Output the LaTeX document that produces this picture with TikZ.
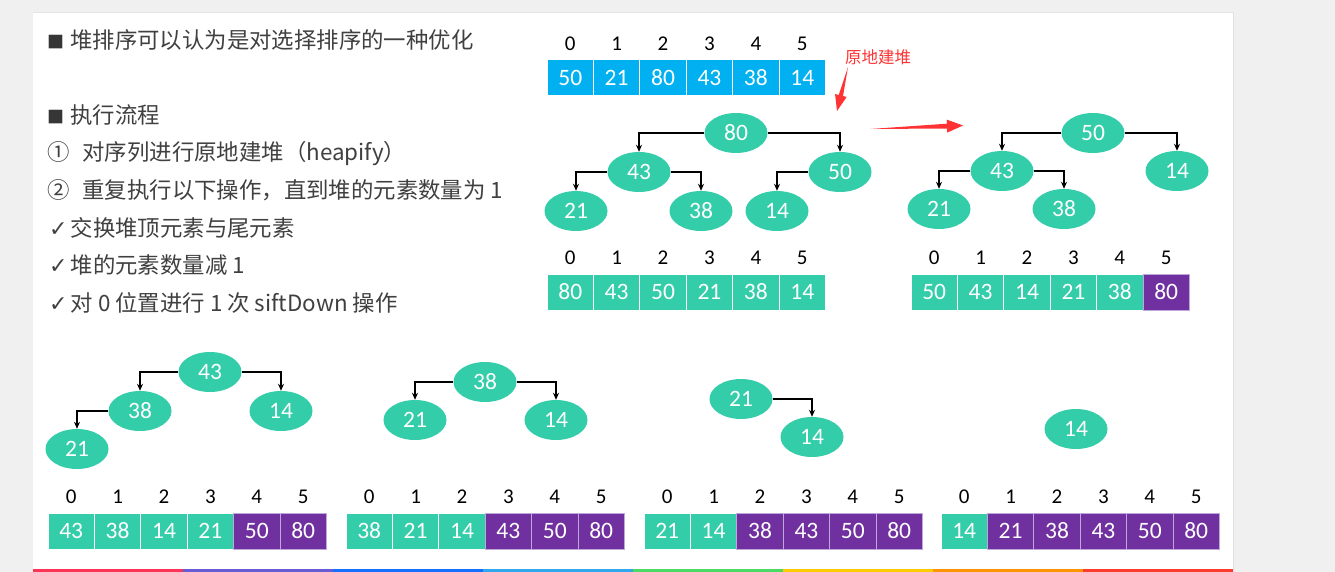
\documentclass[tikz,border=0pt]{standalone}
\usepackage{fontspec}
\setmainfont{Carlito}
\newfontfamily\cjk{Noto Sans CJK SC}
\newfontfamily\dejavu{DejaVu Sans}
\usetikzlibrary{arrows.meta, calc, positioning, shapes.geometric}
\definecolor{heapteal}{RGB}{52,205,170}
\definecolor{heapblue}{RGB}{0,176,240}
\definecolor{heappurple}{RGB}{112,48,160}
\definecolor{lavender}{RGB}{190,168,218}
\definecolor{textgray}{RGB}{64,64,64}
\definecolor{notered}{RGB}{255,51,51}
\definecolor{pagegray}{RGB}{240,240,240}
\definecolor{stripa}{RGB}{255,51,85}
\definecolor{stripb}{RGB}{104,92,214}
\definecolor{stripc}{RGB}{22,112,255}
\definecolor{stripd}{RGB}{48,168,238}
\definecolor{stripe}{RGB}{76,217,100}
\definecolor{stripf}{RGB}{255,204,0}
\definecolor{stripg}{RGB}{255,149,0}
\definecolor{striph}{RGB}{255,59,48}

\begin{document}
\begin{tikzpicture}[x=1pt, y=-1pt,
    heap/.style={ellipse, fill=heapteal, text=white, minimum width=63pt, minimum height=40pt, inner sep=0pt, font=\fontsize{23.5}{23.5}\selectfont},
    cell/.style={rectangle, draw=white, line width=0.8pt, text=white, minimum width=46.4pt, minimum height=36pt, inner sep=0pt, outer sep=0pt, font=\fontsize{23.5}{23.5}\selectfont},
    bcell/.style={cell, fill=heapblue},
    tcell/.style={cell, fill=heapteal},
    pcell/.style={cell, fill=heappurple, draw=lavender},
    idx/.style={text=black, inner sep=0pt, label distance=9pt, font=\fontsize{21}{21}\selectfont},
    txt/.style={anchor=base west, inner sep=0pt, text=textgray, font=\cjk\fontsize{22.4}{22.4}\selectfont},
    link/.style={->, >={Stealth[length=7pt,width=6pt]}, line width=1.3pt, black}]

		\useasboundingbox (0,0) rectangle (1335,572);
		\fill[pagegray] (0,0) rectangle (1335,572);
		\fill[white] (33,12) rectangle (1233,572);
		\draw[black!10] (33,12) -- (1233,12);
		\draw[black!12] (1233,12) -- (1233,572);

		% colour strip at the bottom of the slide
		\fill[stripa] (33,569) rectangle (183,572);
		\fill[stripb] (183,569) rectangle (333,572);
		\fill[stripc] (333,569) rectangle (483,572);
		\fill[stripd] (483,569) rectangle (633,572);
		\fill[stripe] (633,569) rectangle (783,572);
		\fill[stripf] (783,569) rectangle (933,572);
		\fill[stripg] (933,569) rectangle (1083,572);
		\fill[striph] (1083,569) rectangle (1233,572);

		% text
		\node[txt] (intro) at (47,49) {{\fontsize{17}{17}\selectfont\color{textgray!85!black}■}\hspace{6pt}堆排序可以认为是对选择排序的一种优化};
		\node[txt] (flow) at (47,123.5) {{\fontsize{17}{17}\selectfont\color{textgray!85!black}■}\hspace{6pt}执行流程};
		\node[txt] (stepone) at (47,161) {①\hspace{13pt}对序列进行原地建堆（heapify）};
		\node[txt] (steptwo) at (47,198.5) {②\hspace{13pt}重复执行以下操作，直到堆的元素数量为 1};
		\node[txt] (swap) at (49,236) {{\dejavu\fontsize{22}{22}\selectfont ✓}\hspace{3pt}交换堆顶元素与尾元素};
		\node[txt] (shrink) at (49,273.5) {{\dejavu\fontsize{22}{22}\selectfont ✓}\hspace{3pt}堆的元素数量减 1};
		\node[txt] (sift) at (49,311) {{\dejavu\fontsize{22}{22}\selectfont ✓}\hspace{3pt}对 0 位置进行 1 次 siftDown 操作};

		% original array
		\node[bcell, label={[idx]above:0}] (a0) at (570.25,77.5) {50};
		\node[bcell, label={[idx]above:1}, right=0pt of a0] (a1) {21};
		\node[bcell, label={[idx]above:2}, right=0pt of a1] (a2) {80};
		\node[bcell, label={[idx]above:3}, right=0pt of a2] (a3) {43};
		\node[bcell, label={[idx]above:4}, right=0pt of a3] (a4) {38};
		\node[bcell, label={[idx]above:5}, right=0pt of a4] (a5) {14};

		% after heapify
		\node[heap] (p80) at (736,133) {80};
		\node[heap] (p43) at (639,172) {43};
		\node[heap] (p50) at (840,172) {50};
		\node[heap] (p21) at (576,211) {21};
		\node[heap] (p38) at (701,211) {38};
		\node[heap] (p14) at (777,211) {14};
		\draw[link] (p80.west) -| (p43.north);
		\draw[link] (p80.east) -| (p50.north);
		\draw[link] (p43.west) -| (p21.north);
		\draw[link] (p43.east) -| (p38.north);
		\draw[link] (p50.west) -| (p14.north);

		\node[tcell, label={[idx]above:0}] (b0) at (570.25,292) {80};
		\node[tcell, label={[idx]above:1}, right=0pt of b0] (b1) {43};
		\node[tcell, label={[idx]above:2}, right=0pt of b1] (b2) {50};
		\node[tcell, label={[idx]above:3}, right=0pt of b2] (b3) {21};
		\node[tcell, label={[idx]above:4}, right=0pt of b3] (b4) {38};
		\node[tcell, label={[idx]above:5}, right=0pt of b4] (b5) {14};

		% red callouts
		\node[text=notered, inner sep=0pt, font=\cjk\fontsize{16.5}{16.5}\selectfont] (note) at (878,57) {原地建堆};
		\coordinate (n1) at (848,67);
		\coordinate (n2) at (837,111);
		\coordinate (nh) at ($(n2)!16pt!(n1)$);
		\fill[notered] (n1) -- ($(nh)!2.2pt!90:(n2)$) -- ($(nh)!6pt!90:(n2)$) -- (n2) -- ($(nh)!6pt!-90:(n2)$) -- ($(nh)!2.2pt!-90:(n2)$) -- cycle;
		\coordinate (m1) at (870,129);
		\coordinate (m2) at (963,125.5);
		\coordinate (mh) at ($(m2)!16pt!(m1)$);
		\fill[notered] (m1) -- ($(mh)!2.4pt!90:(m2)$) -- ($(mh)!6.5pt!90:(m2)$) -- (m2) -- ($(mh)!6.5pt!-90:(m2)$) -- ($(mh)!2.4pt!-90:(m2)$) -- cycle;

		% first swap
		\node[heap] (q50) at (1093,133) {50};
		\node[heap] (q43) at (1002,171) {43};
		\node[heap] (q14) at (1177,171) {14};
		\node[heap] (q21) at (939,209) {21};
		\node[heap] (q38) at (1064,209) {38};
		\draw[link] (q50.west) -| (q43.north);
		\draw[link] (q50.east) -| (q14.north);
		\draw[link] (q43.west) -| (q21.north);
		\draw[link] (q43.east) -| (q38.north);

		\node[tcell, label={[idx]above:0}] (c0) at (934.2,292) {50};
		\node[tcell, label={[idx]above:1}, right=0pt of c0] (c1) {43};
		\node[tcell, label={[idx]above:2}, right=0pt of c1] (c2) {14};
		\node[tcell, label={[idx]above:3}, right=0pt of c2] (c3) {21};
		\node[tcell, label={[idx]above:4}, right=0pt of c3] (c4) {38};
		\node[pcell, label={[idx]above:5}, right=0pt of c4] (c5) {80};

		% second swap
		\node[heap] (r43) at (210,372) {43};
		\node[heap] (r38) at (140,411) {38};
		\node[heap] (r14) at (281,411) {14};
		\node[heap] (r21) at (77,449) {21};
		\draw[link] (r43.west) -| (r38.north);
		\draw[link] (r43.east) -| (r14.north);
		\draw[link] (r38.west) -| (r21.north);

		\node[tcell, label={[idx]above:0}] (d0) at (71.2,531) {43};
		\node[tcell, label={[idx]above:1}, right=0pt of d0] (d1) {38};
		\node[tcell, label={[idx]above:2}, right=0pt of d1] (d2) {14};
		\node[tcell, label={[idx]above:3}, right=0pt of d2] (d3) {21};
		\node[pcell, label={[idx]above:4}, right=0pt of d3] (d4) {50};
		\node[pcell, label={[idx]above:5}, right=0pt of d4] (d5) {80};

		% third swap
		\node[heap] (s38) at (485,382) {38};
		\node[heap] (s21) at (415,420) {21};
		\node[heap] (s14) at (556,420) {14};
		\draw[link] (s38.west) -| (s21.north);
		\draw[link] (s38.east) -| (s14.north);

		\node[tcell, label={[idx]above:0}] (e0) at (369.2,531) {38};
		\node[tcell, label={[idx]above:1}, right=0pt of e0] (e1) {21};
		\node[tcell, label={[idx]above:2}, right=0pt of e1] (e2) {14};
		\node[pcell, label={[idx]above:3}, right=0pt of e2] (e3) {43};
		\node[pcell, label={[idx]above:4}, right=0pt of e3] (e4) {50};
		\node[pcell, label={[idx]above:5}, right=0pt of e4] (e5) {80};

		% fourth swap
		\node[heap] (u21) at (741,399) {21};
		\node[heap] (u14) at (812,437) {14};
		\draw[link] (u21.east) -| (u14.north);

		\node[tcell, label={[idx]above:0}] (f0) at (667.2,531) {21};
		\node[tcell, label={[idx]above:1}, right=0pt of f0] (f1) {14};
		\node[pcell, label={[idx]above:2}, right=0pt of f1] (f2) {38};
		\node[pcell, label={[idx]above:3}, right=0pt of f2] (f3) {43};
		\node[pcell, label={[idx]above:4}, right=0pt of f3] (f4) {50};
		\node[pcell, label={[idx]above:5}, right=0pt of f4] (f5) {80};

		% last element
		\node[heap] (v14) at (1076,429) {14};

		\node[tcell, label={[idx]above:0}] (g0) at (964.2,531) {14};
		\node[pcell, label={[idx]above:1}, right=0pt of g0] (g1) {21};
		\node[pcell, label={[idx]above:2}, right=0pt of g1] (g2) {38};
		\node[pcell, label={[idx]above:3}, right=0pt of g2] (g3) {43};
		\node[pcell, label={[idx]above:4}, right=0pt of g3] (g4) {50};
		\node[pcell, label={[idx]above:5}, right=0pt of g4] (g5) {80};

		\end{tikzpicture}
\end{document}
